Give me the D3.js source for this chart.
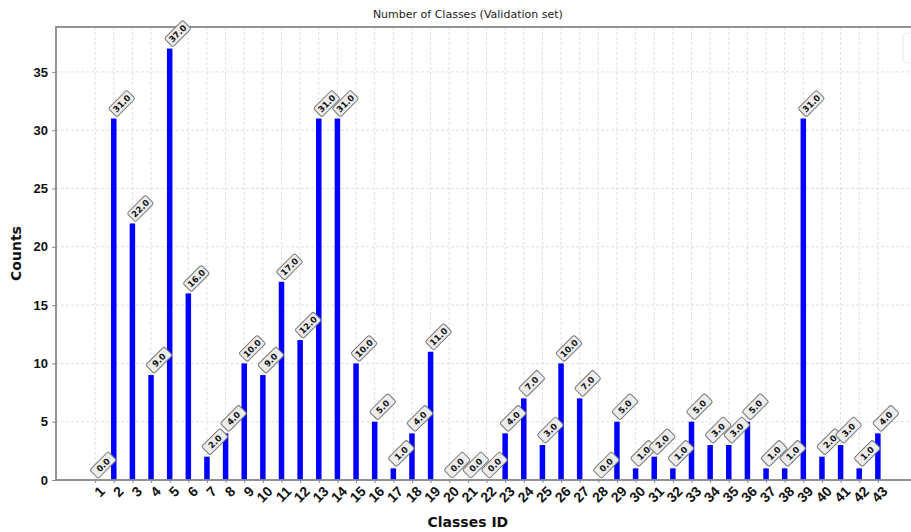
<!DOCTYPE html>
<html>
<head>
<meta charset="utf-8">
<script src="https://cdn.jsdelivr.net/npm/d3@7"></script>
<style>
  body { margin: 0; background: #fff; }
  svg { font-family: "DejaVu Sans", sans-serif; }
</style>
</head>
<body>
<div id="chart"></div>
<script>
var classIds = d3.range(1, 44);
var counts = [0, 31, 22, 9, 37, 16, 2, 4, 10, 9, 17, 12, 31, 31, 10, 5, 1, 4, 11, 0,
  0, 0, 4, 7, 3, 10, 7, 0, 5, 1, 2, 1, 5, 3, 3, 5, 1, 1, 31, 2, 3, 1, 4];
var yTicks = [0, 5, 10, 15, 20, 25, 30, 35];

var data = classIds.map(function (c, i) { return { id: c, count: counts[i] }; });

var W = 911, H = 532;
var margin = { top: 27, right: -6, bottom: 52, left: 56 },
  width = W - margin.left - margin.right,
  height = H - margin.top - margin.bottom;

var x = d3.scaleLinear()
  .domain([-1.1, 45.1])
  .range([0, width]);

var y = d3.scaleLinear()
  .domain([0, 38.85])
  .range([height, 0]);

var svg = d3.select("#chart").append("svg")
  .attr("width", W)
  .attr("height", H);

var g = svg.append("g")
  .attr("transform", "translate(" + margin.left + "," + margin.top + ")");

// grid
g.append("g")
  .selectAll("line")
  .data(classIds)
  .enter().append("line")
  .attr("x1", function (d) { return x(d); })
  .attr("x2", function (d) { return x(d); })
  .attr("y1", 0)
  .attr("y2", height)
  .attr("stroke", "#d8d8d8")
  .attr("stroke-width", 0.8)
  .attr("stroke-dasharray", "3,2");

g.append("g")
  .selectAll("line")
  .data(yTicks)
  .enter().append("line")
  .attr("x1", 0)
  .attr("x2", width)
  .attr("y1", function (d) { return y(d); })
  .attr("y2", function (d) { return y(d); })
  .attr("stroke", "#d8d8d8")
  .attr("stroke-width", 0.8)
  .attr("stroke-dasharray", "3,2");

// bars
var barW = 5.5;
g.selectAll(".bar")
  .data(data)
  .enter().append("rect")
  .attr("class", "bar")
  .attr("x", function (d) { return x(d.id) - barW / 2; })
  .attr("width", barW)
  .attr("y", function (d) { return y(d.count); })
  .attr("height", function (d) { return height - y(d.count); })
  .attr("fill", "#0000ff");

// frame
g.append("rect")
  .attr("x", 0).attr("y", 0)
  .attr("width", width).attr("height", height)
  .attr("fill", "none")
  .attr("stroke", "#888")
  .attr("stroke-width", 1.8);

// axes
var xAxis = d3.axisBottom(x).tickValues(classIds).tickFormat(d3.format("d")).tickSize(3).tickPadding(3);
var yAxis = d3.axisLeft(y).tickValues(yTicks).tickSize(4).tickPadding(4);

var xg = g.append("g")
  .attr("transform", "translate(0," + height + ")")
  .call(xAxis);
xg.select(".domain").remove();
xg.selectAll(".tick line").attr("stroke", "#8a8a8a");
xg.selectAll("text")
  .attr("fill", "#111")
  .style("font-size", "14px")
  .style("font-weight", "bold")
  .attr("text-anchor", "end")
  .attr("dx", "0.1em")
  .attr("dy", "0.5em")
  .attr("transform", "translate(0,4) rotate(-45)");

var yg = g.append("g").call(yAxis);
yg.select(".domain").remove();
yg.selectAll(".tick line").attr("stroke", "#8a8a8a");
yg.selectAll("text")
  .attr("fill", "#111")
  .style("font-size", "13px")
  .style("font-weight", "bold");

// value labels
var lab = g.selectAll(".vlabel")
  .data(data)
  .enter().append("g")
  .attr("class", "vlabel")
  .attr("transform", function (d) {
    return "translate(" + (x(d.id) + 8) + "," + (y(d.count) - 15) + ") rotate(-45)";
  });
lab.append("rect")
  .attr("x", -13).attr("y", -6)
  .attr("width", 26).attr("height", 12)
  .attr("rx", 2)
  .attr("fill", "#ececec")
  .attr("stroke", "#777")
  .attr("stroke-width", 1);
lab.append("text")
  .attr("text-anchor", "middle")
  .attr("dy", "0.35em")
  .style("font-size", "8.5px")
  .style("font-weight", "bold")
  .attr("fill", "#111")
  .text(function (d) { return d.count.toFixed(1); });

// titles
svg.append("text")
  .attr("x", margin.left + x(21))
  .attr("y", 18)
  .attr("text-anchor", "middle")
  .style("font-size", "11px")
  .attr("fill", "#222")
  .text("Number of Classes (Validation set)");

svg.append("text")
  .attr("x", margin.left + x(21))
  .attr("y", 527)
  .attr("text-anchor", "middle")
  .style("font-size", "14px")
  .style("font-weight", "bold")
  .attr("fill", "#111")
  .text("Classes ID");

svg.append("text")
  .attr("transform", "translate(21," + (margin.top + height / 2) + ") rotate(-90)")
  .attr("text-anchor", "middle")
  .style("font-size", "14px")
  .style("font-weight", "bold")
  .attr("fill", "#111")
  .text("Counts");

// clipped legend corner at top right
svg.append("rect")
  .attr("x", 903).attr("y", 33)
  .attr("width", 40).attr("height", 30)
  .attr("rx", 4)
  .attr("fill", "none")
  .attr("stroke", "#e8e8e8")
  .attr("stroke-width", 1);
</script>
</body>
</html>
